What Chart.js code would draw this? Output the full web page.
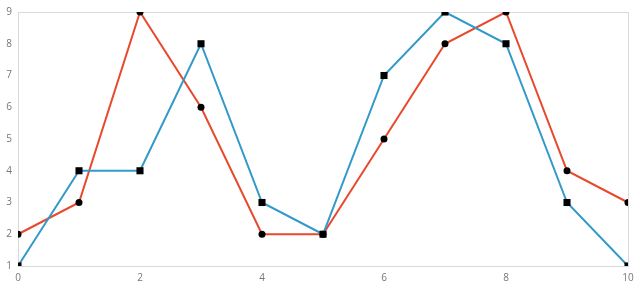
<!DOCTYPE html>
<html>
<head>
<meta charset="utf-8">
<script src="https://cdn.jsdelivr.net/npm/chart.js@4"></script>
<style>
  html, body { margin: 0; padding: 0; background: #fff; }
  #wrap { width: 640px; height: 288px; }
</style>
</head>
<body>
<div id="wrap"><canvas id="c" width="640" height="288"></canvas></div>
<script>
// data
const xValues = [0, 1, 2, 3, 4, 5, 6, 7, 8, 9, 10];
const redValues = [2, 3, 9, 6, 2, 2, 5, 8, 9, 4, 3];
const blueValues = [1, 4, 4, 8, 3, 2, 7, 9, 8, 3, 1];

const toPoints = (ys) => xValues.map((x, i) => ({ x, y: ys[i] }));

// light gray frame round the plot area
const frame = {
  id: 'frame',
  beforeDatasetsDraw(chart) {
    const { ctx, chartArea: a } = chart;
    ctx.save();
    ctx.strokeStyle = '#d9d9d9';
    ctx.lineWidth = 1;
    ctx.strokeRect(Math.round(a.left) + 0.5, Math.round(a.top) + 0.5,
      Math.round(a.right - a.left), Math.round(a.bottom - a.top));
    ctx.restore();
  }
};

const tickFont = { family: 'Open Sans', size: 10 };

new Chart(document.getElementById('c'), {
  type: 'line',
  data: {
    datasets: [
      {
        label: 'blue',
        data: toPoints(blueValues),
        borderColor: '#3399c9',
        borderWidth: 2,
        pointStyle: 'rect',
        pointRadius: 5,
        pointBackgroundColor: '#000',
        pointBorderWidth: 0,
        tension: 0,
      },
      {
        label: 'red',
        data: toPoints(redValues),
        borderColor: '#e8492d',
        borderWidth: 2,
        pointStyle: 'circle',
        pointRadius: 3.5,
        pointBackgroundColor: '#000',
        pointBorderWidth: 0,
        tension: 0,
      },
    ],
  },
  options: {
    responsive: false,
    animation: false,
    layout: { padding: { top: 10, right: 12, left: 0, bottom: 0 } },
    plugins: { legend: { display: false }, tooltip: { enabled: false } },
    scales: {
      x: {
        type: 'linear',
        min: 0,
        max: 10,
        grid: { display: false, drawTicks: false },
        border: { display: false },
        ticks: { stepSize: 2, color: '#777', font: tickFont, padding: 6 },
        afterFit(s) { s.height = 22; },
      },
      y: {
        min: 1,
        max: 9,
        grid: { display: false, drawTicks: false },
        border: { display: false },
        ticks: { stepSize: 1, color: '#777', font: tickFont, padding: 6 },
        afterFit(s) { s.width = 18; },
      },
    },
  },
  plugins: [frame],
});
</script>
</body>
</html>
